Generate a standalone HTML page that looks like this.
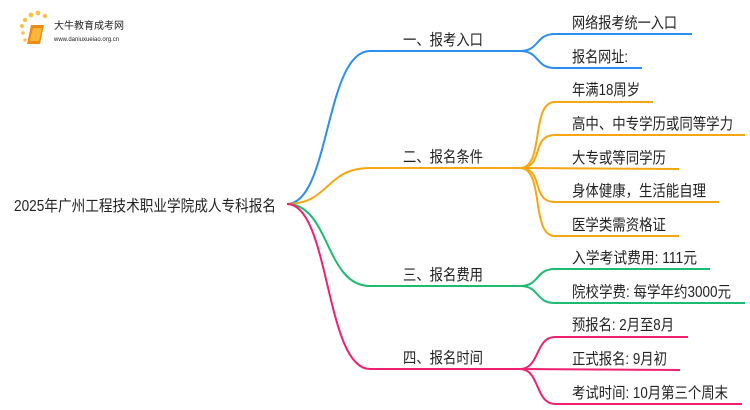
<!DOCTYPE html>
<html><head><meta charset="utf-8"><style>
html,body{margin:0;padding:0;background:#fff;}
svg{display:block;}
text{font-family:"Liberation Sans","Noto Sans CJK SC",sans-serif;fill:#222;}
</style></head><body>
<svg width="750" height="410" viewBox="0 0 750 410" xmlns="http://www.w3.org/2000/svg">
<g>
<circle cx="22" cy="26" r="2" fill="#f7c14a"/><circle cx="25" cy="20" r="2.2" fill="#f7c14a"/><circle cx="31" cy="15" r="2.4" fill="#f7c14a"/><circle cx="38" cy="13" r="2.4" fill="#f7c14a"/><circle cx="45" cy="16" r="2.2" fill="#f7c14a"/><circle cx="23" cy="33" r="1.8" fill="#f7c14a"/><circle cx="25" cy="40" r="1.6" fill="#f7c14a"/>
<path d="M31 25 L44 25 L40 44 L27 44 Z" fill="#f08a12"/>
<path d="M33 28 L42 28 L39 41 L30 41 Z" fill="#f9b63c"/>
<text x="54" y="29" font-size="10" fill="#333">大牛教育成考网</text>
<text x="54" y="41" font-size="6" fill="#666">www.daniuxueiao.org.cn</text>
</g>
<text x="14" y="211" font-size="15.5" textLength="262" lengthAdjust="spacingAndGlyphs">2025年广州工程技术职业学院成人专科报名</text>
<g fill="none" stroke-width="2">
<path d="M287 204 C330 204 325 51 370 51 L520 51" stroke="#2b8ef0"/>
<path d="M520 51 C540 51 535 34 555 34 L692 34" stroke="#2b8ef0"/>
<path d="M520 51 C540 51 535 68 555 68 L642 68" stroke="#2b8ef0"/>
<path d="M287 204 C330 204 325 168 370 168 L520 168" stroke="#f5a612"/>
<path d="M520 168 C545 168 530 102 555 102 L653 102" stroke="#f5a612"/>
<path d="M520 168 C545 168 530 135 555 135 L745 135" stroke="#f5a612"/>
<path d="M520 168 L679 169" stroke="#f5a612"/>
<path d="M520 168 C545 168 530 202 555 202 L719 202" stroke="#f5a612"/>
<path d="M520 168 C545 168 530 236 555 236 L679 236" stroke="#f5a612"/>
<path d="M287 204 C330 204 325 286 370 286 L520 286" stroke="#1dbb6d"/>
<path d="M520 286 C540 286 535 269 555 269 L710 269" stroke="#1dbb6d"/>
<path d="M520 286 C540 286 535 303 555 303 L745 303" stroke="#1dbb6d"/>
<path d="M287 204 C330 204 325 369 370 369 L520 369" stroke="#f02070"/>
<path d="M520 369 C540 369 535 337 555 337 L688 337" stroke="#f02070"/>
<path d="M520 369 L680 370" stroke="#f02070"/>
<path d="M520 369 C540 369 535 404 555 404 L742 404" stroke="#f02070"/>
</g>
<g font-size="15.5" lengthAdjust="spacingAndGlyphs">
<text x="403" y="45" textLength="80" lengthAdjust="spacingAndGlyphs">一、报考入口</text>
<text x="403" y="162" textLength="80" lengthAdjust="spacingAndGlyphs">二、报名条件</text>
<text x="403" y="280" textLength="80" lengthAdjust="spacingAndGlyphs">三、报名费用</text>
<text x="403" y="363" textLength="80" lengthAdjust="spacingAndGlyphs">四、报名时间</text>
<text x="572" y="28" textLength="105" lengthAdjust="spacingAndGlyphs">网络报考统一入口</text>
<text x="572" y="62" textLength="56" lengthAdjust="spacingAndGlyphs">报名网址:</text>
<text x="572" y="95" textLength="68" lengthAdjust="spacingAndGlyphs">年满18周岁</text>
<text x="572" y="129" textLength="161" lengthAdjust="spacingAndGlyphs">高中、中专学历或同等学力</text>
<text x="572" y="163" textLength="94" lengthAdjust="spacingAndGlyphs">大专或等同学历</text>
<text x="572" y="196" textLength="134" lengthAdjust="spacingAndGlyphs">身体健康，生活能自理</text>
<text x="572" y="230" textLength="94" lengthAdjust="spacingAndGlyphs">医学类需资格证</text>
<text x="572" y="263" textLength="125" lengthAdjust="spacingAndGlyphs">入学考试费用: 111元</text>
<text x="572" y="297" textLength="159" lengthAdjust="spacingAndGlyphs">院校学费: 每学年约3000元</text>
<text x="572" y="330" textLength="102" lengthAdjust="spacingAndGlyphs">预报名: 2月至8月</text>
<text x="572" y="364" textLength="95" lengthAdjust="spacingAndGlyphs">正式报名: 9月初</text>
<text x="572" y="398" textLength="156" lengthAdjust="spacingAndGlyphs">考试时间: 10月第三个周末</text>
</g>
</svg>
</body></html>
